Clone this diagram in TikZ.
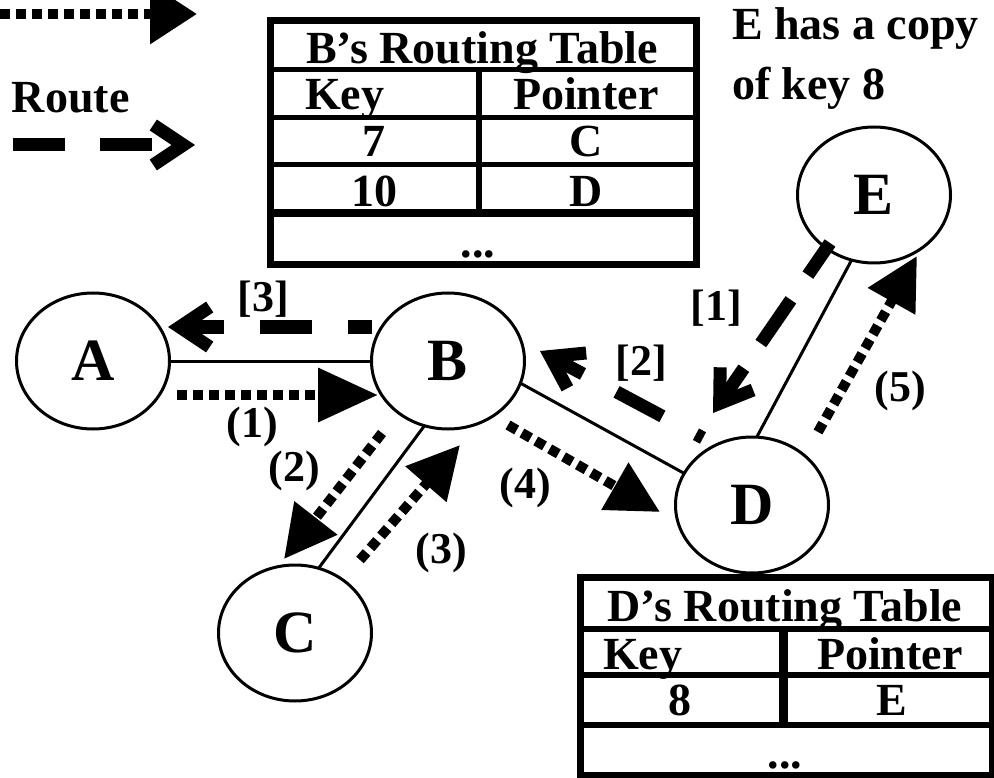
\documentclass[tikz,border=0pt]{standalone}
\usepackage{fontspec}
\setmainfont{Liberation Serif}
\usetikzlibrary{arrows.meta,shapes.geometric}
\begin{document}
\begin{tikzpicture}[x=1pt,y=-1pt,
  every node/.style={font=\bfseries\fontsize{46}{50}\selectfont, inner sep=0pt, outer sep=0pt},
  peer/.style={draw, ellipse, line width=3pt, minimum width=153pt, minimum height=136pt, font=\bfseries\fontsize{60}{60}\selectfont},
  edge/.style={line width=3pt},
  query/.style={line width=10pt, dash pattern=on 10pt off 6pt},
  qtip/.style={-{Triangle[length=52pt 0,width=52pt 0]}},
  route/.style={line width=13pt, -{Straight Barb[length=30pt 0,width=40pt 0]}},
  tbl/.style={line width=6pt},
  lbl/.style={font=\bfseries\fontsize{44}{44}\selectfont}
]
\useasboundingbox (0,0) rectangle (994,778);

% legend
\coordinate (l1s) at (0,14);
\coordinate (l1e) at (197,14);
\draw[query, -{Triangle[length=47pt 0,width=58pt 0]}] (l1s) -- (l1e);
\node[anchor=base west] (routetxt) at (12,113) {Route};
\coordinate (l2s) at (13,145);
\coordinate (l2e) at (195,145);
\draw[route, dash pattern=on 52pt off 35pt] (l2s) -- (l2e);

% note
\node[anchor=base west] (note1) at (732,40) {E has a copy};
\node[anchor=base west] (note2) at (732,100) {of key 8};

% B's routing table
\draw[tbl, line width=7pt] (270,21) rectangle (696,265);
\draw[tbl, line width=5pt] (270,69.5) -- (696,69.5);
\draw[tbl, line width=5pt] (270,117.5) -- (696,117.5);
\draw[tbl, line width=5pt] (270,165) -- (696,165);
\draw[tbl, line width=8pt] (270,213) -- (696,213);
\draw[tbl, line width=6pt] (478.5,69.5) -- (478.5,213);
\node[anchor=base] (bt) at (482,64) {B’s Routing Table};
\node[anchor=base west] (bk) at (305,110) {Key};
\node[anchor=base west] (bp) at (513,110) {Pointer};
\node[anchor=base] (b7) at (374,157) {7};
\node[anchor=base] (bc) at (586,157) {C};
\node[anchor=base] (b10) at (374,207) {10};
\node[anchor=base] (bd) at (586,207) {D};
\node[anchor=base] (bdots) at (478,258) {...};

% D's routing table
\draw[tbl, line width=7pt] (580,577) rectangle (992,775);
\draw[tbl, line width=6pt] (580,628.5) -- (992,628.5);
\draw[tbl, line width=6pt] (580,675) -- (992,675);
\draw[tbl, line width=6pt] (580,725) -- (992,725);
\draw[tbl, line width=9pt] (783,628.5) -- (783,725);
\node[anchor=base] (dt) at (785,621) {D’s Routing Table};
\node[anchor=base west] (dk) at (603,669) {Key};
\node[anchor=base west] (dp) at (817,669) {Pointer};
\node[anchor=base] (d8) at (680,715) {8};
\node[anchor=base] (de) at (892,715) {E};
\node[anchor=base] (ddots) at (785,768) {...};

% peers
\node[peer] (A) at (93,361) {A};
\node[peer] (B) at (448,361) {B};
\node[peer] (C) at (295,633) {C};
\node[peer] (D) at (752,505) {D};
\node[peer] (E) at (874,195) {E};

\draw[edge] (A) -- (B);
\draw[edge] (B.250) -- (C.70);
\draw[edge] (B.-17) -- (D.155);
\draw[edge] (D.86) -- (E.251);

% query arrows
\coordinate (q1s) at (177,395); \coordinate (q1e) at (378,395);
\draw[query, -{Triangle[length=60pt 0,width=52pt 0]}] (q1s) -- (q1e);
\coordinate (q2s) at (382,433); \coordinate (q2e) at (284,559);
\draw[query, qtip] (q2s) -- (q2e);
\coordinate (q3s) at (360,560); \coordinate (q3e) at (460,445);
\draw[query, qtip] (q3s) -- (q3e);
\coordinate (q4s) at (508,425); \coordinate (q4e) at (660,512);
\draw[query, qtip] (q4s) -- (q4e);
\coordinate (q5s) at (818,432); \coordinate (q5e) at (917,256);
\draw[query, qtip] (q5s) -- (q5e);

% route arrows
\coordinate (r3s) at (372,327); \coordinate (r3e) at (168,327);
\draw[route, dash pattern=on 52pt off 36pt, dash phase=28pt] (r3s) -- (r3e);
\coordinate (r2s) at (703,438); \coordinate (r2e) at (540,351);
\draw[route, dash pattern=on 52pt off 38pt, dash phase=44pt] (r2s) -- (r2e);
\coordinate (r1s) at (830,243); \coordinate (r1e) at (713,413);
\draw[route, dash pattern=on 53pt off 30pt, dash phase=14pt] (r1s) -- (r1e);

% labels
\node[lbl] (l1) at (252,427) {(1)};
\node[lbl] (l2) at (294,471) {(2)};
\node[lbl] (l3) at (441,553) {(3)};
\node[lbl] (l4) at (525,488) {(4)};
\node[lbl] (l5) at (900,391) {(5)};
\node[lbl] (m3) at (263,299) {[3]};
\node[lbl] (m2) at (641,363) {[2]};
\node[lbl] (m1) at (716,308) {[1]};
\end{tikzpicture}
\end{document}
